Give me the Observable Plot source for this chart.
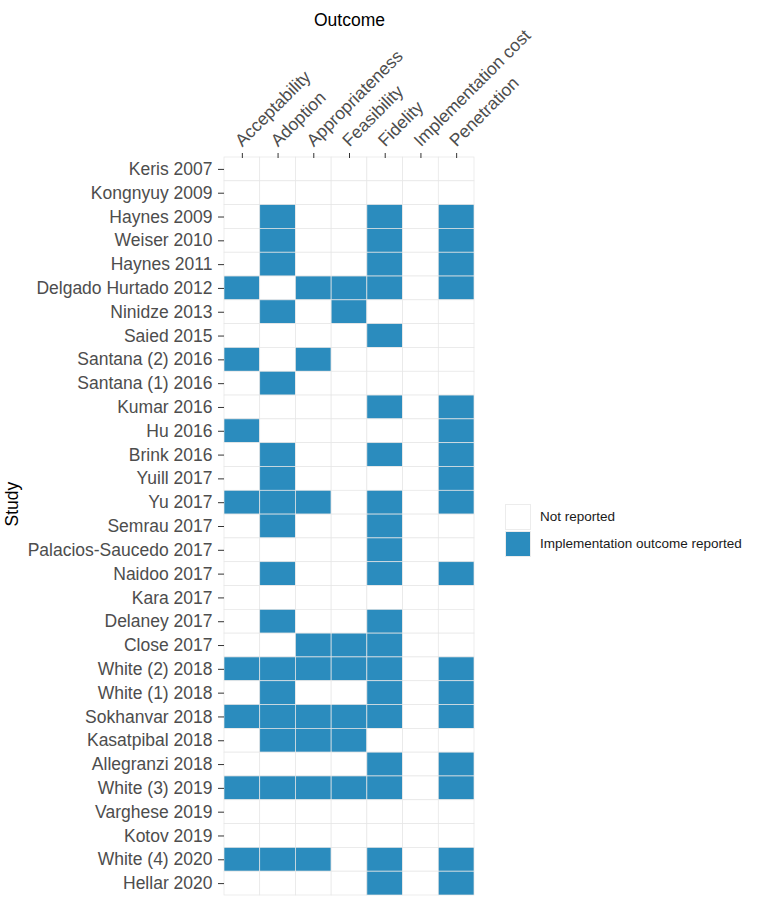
<!DOCTYPE html>
<html>
<head>
<meta charset="utf-8">
<script src="https://cdn.jsdelivr.net/npm/d3@7"></script>
<script src="https://cdn.jsdelivr.net/npm/@observablehq/plot@0.6"></script>
<style>
  html, body { margin: 0; padding: 0; background: #fff; }
  #wrap { position: relative; width: 761px; height: 902px; }
  #wrap svg { display: block; }
  #legend { position: absolute; left: 505px; top: 503px; font-family: "Liberation Sans", Arial, sans-serif; font-size: 13.5px; color: #1a1a1a; }
  .row { display: flex; align-items: center; height: 27px; }
  .key { width: 26px; height: 26px; box-sizing: border-box; margin-right: 9px; }
</style>
</head>
<body>
<div id="wrap"></div>
<script>
const outcomes = ["Acceptability", "Adoption", "Appropriateness", "Feasibility", "Fidelity", "Implementation cost", "Penetration"];
const studies = [
  "Keris 2007", "Kongnyuy 2009", "Haynes 2009", "Weiser 2010", "Haynes 2011",
  "Delgado Hurtado 2012", "Ninidze 2013", "Saied 2015", "Santana (2) 2016", "Santana (1) 2016",
  "Kumar 2016", "Hu 2016", "Brink 2016", "Yuill 2017", "Yu 2017",
  "Semrau 2017", "Palacios-Saucedo 2017", "Naidoo 2017", "Kara 2017", "Delaney 2017",
  "Close 2017", "White (2) 2018", "White (1) 2018", "Sokhanvar 2018", "Kasatpibal 2018",
  "Allegranzi 2018", "White (3) 2019", "Varghese 2019", "Kotov 2019", "White (4) 2020",
  "Hellar 2020"
];
// 1 = implementation outcome reported, in the order of `outcomes`
const reported = [
  [0,0,0,0,0,0,0], // Keris 2007
  [0,0,0,0,0,0,0], // Kongnyuy 2009
  [0,1,0,0,1,0,1], // Haynes 2009
  [0,1,0,0,1,0,1], // Weiser 2010
  [0,1,0,0,1,0,1], // Haynes 2011
  [1,0,1,1,1,0,1], // Delgado Hurtado 2012
  [0,1,0,1,0,0,0], // Ninidze 2013
  [0,0,0,0,1,0,0], // Saied 2015
  [1,0,1,0,0,0,0], // Santana (2) 2016
  [0,1,0,0,0,0,0], // Santana (1) 2016
  [0,0,0,0,1,0,1], // Kumar 2016
  [1,0,0,0,0,0,1], // Hu 2016
  [0,1,0,0,1,0,1], // Brink 2016
  [0,1,0,0,0,0,1], // Yuill 2017
  [1,1,1,0,1,0,1], // Yu 2017
  [0,1,0,0,1,0,0], // Semrau 2017
  [0,0,0,0,1,0,0], // Palacios-Saucedo 2017
  [0,1,0,0,1,0,1], // Naidoo 2017
  [0,0,0,0,0,0,0], // Kara 2017
  [0,1,0,0,1,0,0], // Delaney 2017
  [0,0,1,1,1,0,0], // Close 2017
  [1,1,1,1,1,0,1], // White (2) 2018
  [0,1,0,0,1,0,1], // White (1) 2018
  [1,1,1,1,1,0,1], // Sokhanvar 2018
  [0,1,1,1,0,0,0], // Kasatpibal 2018
  [0,0,0,0,1,0,1], // Allegranzi 2018
  [1,1,1,1,1,0,1], // White (3) 2019
  [0,0,0,0,0,0,0], // Varghese 2019
  [0,0,0,0,0,0,0], // Kotov 2019
  [1,1,1,0,1,0,1], // White (4) 2020
  [0,0,0,0,1,0,1]  // Hellar 2020
];
const statusLabels = ["Not reported", "Implementation outcome reported"];
const statusColors = ["#ffffff", "#2b8cbe"];

const cells = [];
studies.forEach((s, i) => outcomes.forEach((o, j) => cells.push({study: s, outcome: o, status: statusLabels[reported[i][j]]})));

const chart = Plot.plot({
  width: 761,
  height: 902,
  marginLeft: 224,
  marginRight: 287,
  marginTop: 157,
  marginBottom: 7,
  style: {fontFamily: "'Liberation Sans', Arial, sans-serif", fontSize: "17.5px", color: "#4d4d4d", background: "#fff", overflow: "visible"},
  x: {domain: outcomes, padding: 0, round: false},
  y: {domain: studies, padding: 0, round: false},
  color: {type: "ordinal", domain: statusLabels, range: statusColors},
  marks: [
    Plot.cell(cells, {x: "outcome", y: "study", fill: "status", stroke: "#e6e6e6", strokeWidth: 0.7}),
    Plot.axisX({anchor: "top", tickSize: 5, tickFormat: () => "", label: null, stroke: "#333"}),
    Plot.axisX({anchor: "top", tickSize: 0, tickRotate: -45, tickPadding: 14, dx: -4, label: null, fill: "#4d4d4d", fontSize: 17.5}),
    Plot.axisY({anchor: "left", tickSize: 6, tickPadding: 6, label: null, stroke: "#333", fill: "#4d4d4d", fontSize: 17.5}),
    Plot.text(["Outcome"], {frameAnchor: "top", dy: -144, fontSize: 17.5, fill: "#000"}),
    Plot.text(["Study"], {frameAnchor: "left", dx: -212, rotate: -90, fontSize: 17.5, fill: "#000"})
  ]
});
const wrap = document.getElementById("wrap");
wrap.appendChild(chart);

const legend = document.createElement("div");
legend.id = "legend";
statusLabels.forEach((lab, k) => {
  const row = document.createElement("div");
  row.className = "row";
  const key = document.createElement("div");
  key.className = "key";
  key.style.background = statusColors[k];
  key.style.border = "0.7px solid #ececec";
  const t = document.createElement("span");
  t.textContent = lab;
  row.appendChild(key);
  row.appendChild(t);
  legend.appendChild(row);
});
wrap.appendChild(legend);
</script>
</body>
</html>
